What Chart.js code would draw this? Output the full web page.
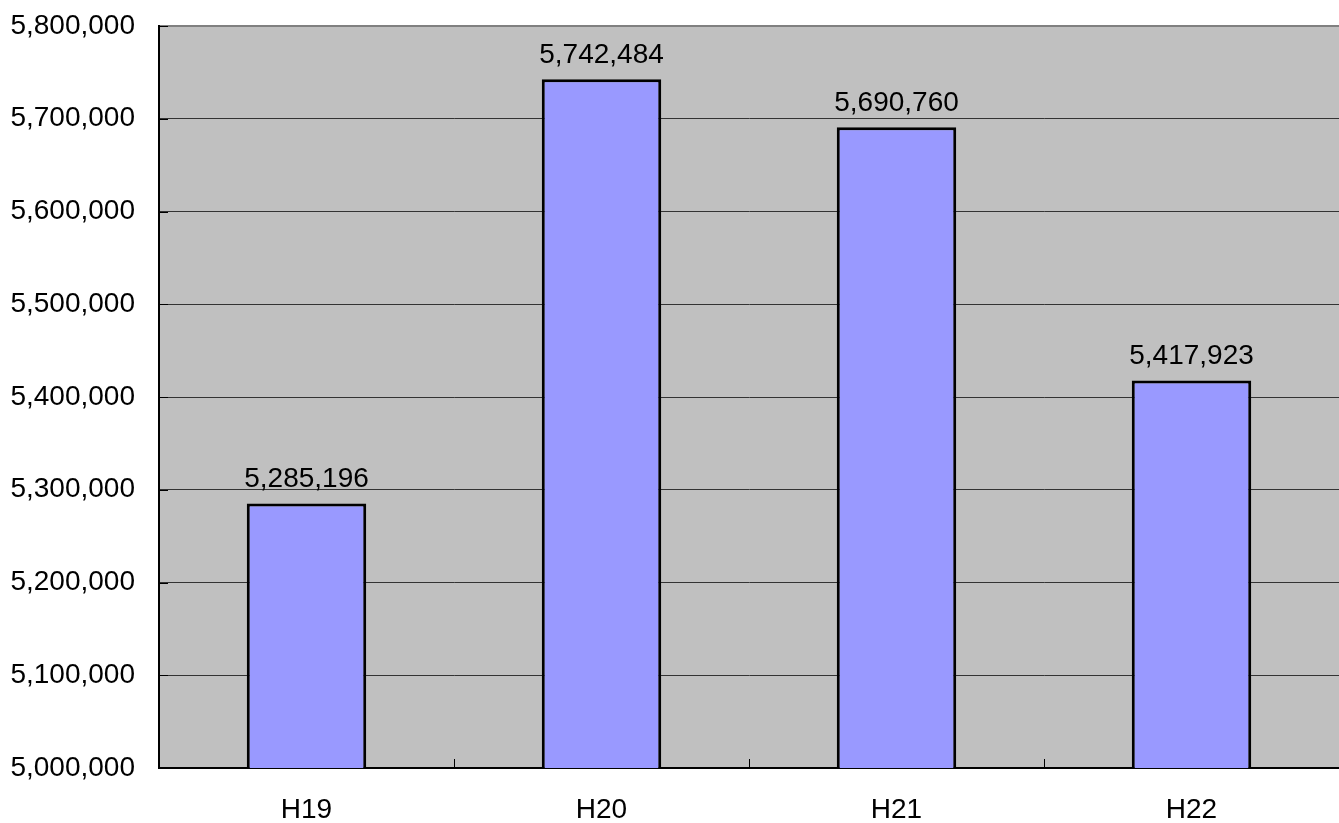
<!DOCTYPE html>
<html>
<head>
<meta charset="utf-8">
<script src="https://cdn.jsdelivr.net/npm/chart.js@4/dist/chart.umd.min.js"></script>
<style>
  html, body { margin: 0; padding: 0; background: #fff; }
  #wrap { width: 1339px; height: 823px; }
</style>
</head>
<body>
<div id="wrap"><canvas id="chart"></canvas></div>
<script>
// chart data
const categories = ['H19', 'H20', 'H21', 'H22'];
const values = [5285196, 5742484, 5690760, 5417923];
const yMin = 5000000;
const yMax = 5800000;
const yStep = 100000;

const FONT = 'Liberation Sans, Arial, sans-serif';
const fmt = v => v.toLocaleString('en-US');

// gray plot background
const plotBackground = {
  id: 'plotBackground',
  beforeDraw(chart) {
    const { ctx, chartArea: a } = chart;
    ctx.save();
    ctx.fillStyle = '#c0c0c0';
    ctx.fillRect(a.left, a.top, a.right - a.left, a.bottom - a.top);
    ctx.restore();
  },
};

// small inward tick marks, like the original spreadsheet chart
const innerTicks = {
  id: 'innerTicks',
  afterDraw(chart) {
    const { ctx, chartArea: a, scales } = chart;
    ctx.save();
    ctx.strokeStyle = '#000';
    ctx.lineWidth = 1;
    ctx.beginPath();
    const x = scales.x;
    for (let i = 0; i < categories.length - 1; i++) {
      const px = Math.round((x.getPixelForValue(i) + x.getPixelForValue(i + 1)) / 2) + 0.5;
      ctx.moveTo(px, a.bottom);
      ctx.lineTo(px, a.bottom - 9);
    }
    scales.y.ticks.forEach(t => {
      const py = Math.round(scales.y.getPixelForValue(t.value)) + 0.5;
      ctx.moveTo(a.left, py);
      ctx.lineTo(a.left + 9, py);
    });
    ctx.stroke();
    ctx.restore();
  },
};

// value labels above the bars
const barLabels = {
  id: 'barLabels',
  afterDatasetsDraw(chart) {
    const { ctx } = chart;
    const meta = chart.getDatasetMeta(0);
    ctx.save();
    ctx.fillStyle = '#000';
    ctx.font = `28px ${FONT}`;
    ctx.textAlign = 'center';
    ctx.textBaseline = 'alphabetic';
    meta.data.forEach((bar, i) => {
      ctx.fillText(fmt(values[i]), bar.x, bar.y - 16);
    });
    ctx.restore();
  },
};

new Chart(document.getElementById('chart'), {
  type: 'bar',
  data: {
    labels: categories,
    datasets: [{
      data: values,
      backgroundColor: '#9999ff',
      borderColor: '#000',
      borderWidth: 3,
      barPercentage: 0.405,
      categoryPercentage: 1,
    }],
  },
  options: {
    responsive: true,
    maintainAspectRatio: false,
    animation: false,
    layout: { autoPadding: false, padding: { top: 26, right: 0, left: 0, bottom: 0 } },
    plugins: {
      legend: { display: false },
      tooltip: { enabled: false },
    },
    scales: {
      x: {
        grid: { display: false, drawTicks: false },
        border: { color: '#000', width: 2 },
        ticks: {
          color: '#000',
          font: { family: FONT, size: 28 },
          padding: 25,
        },
        afterFit(scale) {
          scale.height = 55;
          scale.paddingLeft = 0;
          scale.paddingRight = 0;
        },
      },
      y: {
        min: yMin,
        max: yMax,
        grid: {
          drawTicks: false,
          color: ctx => (ctx.tick && ctx.tick.value === yMax ? '#808080' : '#333'),
          lineWidth: ctx => (ctx.tick && ctx.tick.value === yMax ? 2 : 1),
        },
        border: { color: '#000', width: 2 },
        ticks: {
          stepSize: yStep,
          color: '#000',
          font: { family: FONT, size: 28 },
          padding: 24,
          callback: v => fmt(v),
        },
        afterFit(scale) {
          // label padding would otherwise push the plot top down
          scale.width = 159;
          scale.paddingTop = 0;
          scale.paddingBottom = 0;
        },
      },
    },
  },
  plugins: [plotBackground, innerTicks, barLabels],
});
</script>
</body>
</html>
